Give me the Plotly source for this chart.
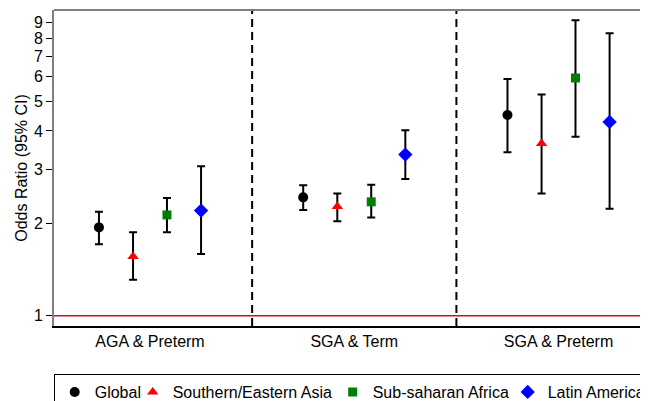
import plotly.graph_objects as go

# ---- data ----
categories = ["AGA & Preterm", "SGA & Term", "SGA & Preterm"]
series = ["Global", "Southern/Eastern Asia", "Sub-saharan Africa", "Latin America"]

global_or = [1.94, 2.43, 4.51]
global_lo = [1.71, 2.21, 3.41]
global_hi = [2.18, 2.66, 5.90]

asia_or = [1.56, 2.27, 3.64]
asia_lo = [1.31, 2.03, 2.50]
asia_hi = [1.87, 2.50, 5.26]

africa_or = [2.13, 2.35, 5.95]
africa_lo = [1.87, 2.09, 3.83]
africa_hi = [2.42, 2.67, 9.17]

latam_or = [2.20, 3.35, 4.28]
latam_lo = [1.59, 2.79, 2.23]
latam_hi = [3.07, 4.02, 8.33]

y_ticks = [1, 2, 3, 4, 5, 6, 7, 8, 9]

# ---- styling ----
offsets = [-0.25, -0.083, 0.083, 0.25]
colors = ["black", "#ff0000", "#008000", "#0000ff"]
symbols = ["circle", "triangle-up", "square", "diamond"]
sizes = [10, 10, 9, 11]
legend_widths = [33, 155, 130, 100]

all_or = [global_or, asia_or, africa_or, latam_or]
all_lo = [global_lo, asia_lo, africa_lo, latam_lo]
all_hi = [global_hi, asia_hi, africa_hi, latam_hi]

FONT = "Liberation Sans, Arial, sans-serif"

fig = go.Figure()
for i, name in enumerate(series):
    xs = [g + 1 + offsets[i] for g in range(len(categories))]
    ors = all_or[i]
    fig.add_trace(go.Scatter(
        x=xs, y=ors, mode="markers", name=name, legendwidth=legend_widths[i],
        marker=dict(color=colors[i], symbol=symbols[i], size=sizes[i], line=dict(width=0)),
        error_y=dict(type="data", symmetric=False,
                     array=[h - o for h, o in zip(all_hi[i], ors)],
                     arrayminus=[o - l for o, l in zip(ors, all_lo[i])],
                     color="black", thickness=2, width=4),
    ))

# reference line at OR = 1
fig.add_shape(type="line", xref="paper", yref="y", x0=0, x1=1, y0=1, y1=1,
              line=dict(color="#c8102e", width=1.5), layer="below")
# group dividers
for xv in [1.5, 2.5]:
    fig.add_shape(type="line", xref="x", yref="paper", x0=xv, x1=xv, y0=0, y1=1,
                  line=dict(color="black", width=2, dash="8px,5px"))
# top border
fig.add_shape(type="line", xref="paper", yref="paper", x0=0, x1=1, y0=1, y1=1,
              line=dict(color="#808080", width=2))

# page body has an 8px default margin, so the figure is sized to end at the window edge
fig.update_layout(
    width=640, height=393,
    margin=dict(l=46, r=0, t=2, b=75, autoexpand=False),
    plot_bgcolor="white", paper_bgcolor="white",
    font=dict(family=FONT, size=16, color="black"),
    showlegend=True,
    legend=dict(orientation="h", x=-0.0005, xanchor="left", y=-0.152, yanchor="top",
                bordercolor="black", borderwidth=1, bgcolor="white",
                font=dict(size=16), itemwidth=30),
    xaxis=dict(range=[0.530, 3.438], tickvals=[1, 2, 3], ticktext=categories,
               showgrid=False, zeroline=False, showline=True, linecolor="black",
               linewidth=2, ticks="", tickfont=dict(size=16)),
    yaxis=dict(type="log", range=[-0.0335, 0.996], tickvals=y_ticks,
               ticktext=[str(t) for t in y_ticks],
               showgrid=False, zeroline=False, showline=True, linecolor="#808080",
               linewidth=2, ticks="outside", ticklen=6, tickwidth=1, tickcolor="black",
               tickfont=dict(size=16),
               title=dict(text="Odds Ratio (95% CI)", font=dict(size=16), standoff=2)),
)

fig.write_html("out.html")
